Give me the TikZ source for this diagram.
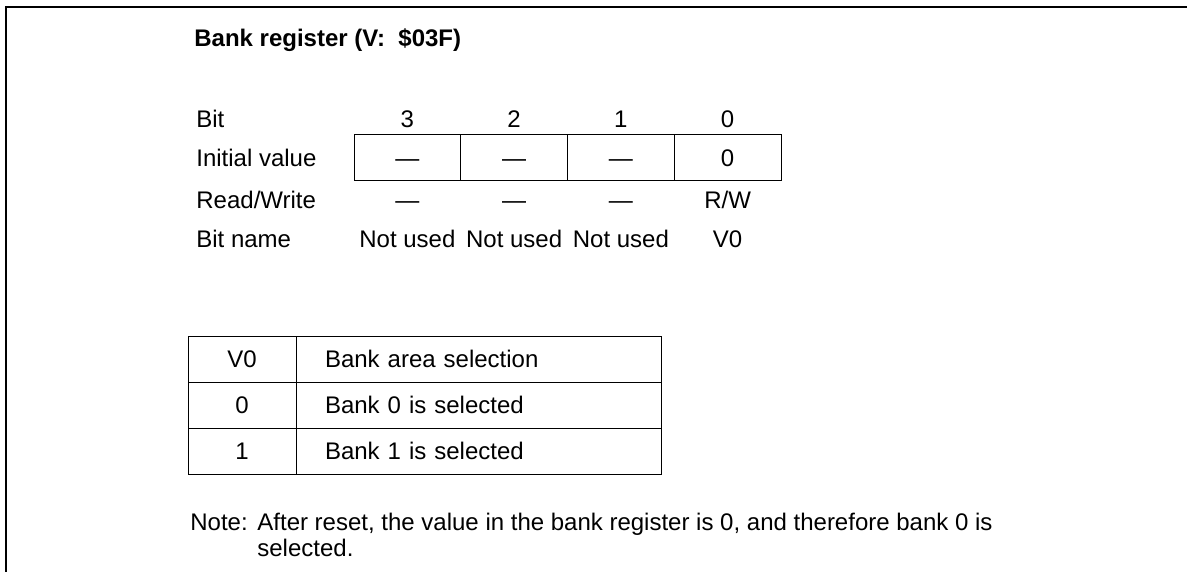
\documentclass[tikz,border=0pt]{standalone}
\usepackage{fontspec}
\setmainfont{Liberation Sans}
\usetikzlibrary{positioning}

\begin{document}
\begin{tikzpicture}[x=0.5pt,y=-0.5pt,font=\fontsize{12}{13}\selectfont,
  bitcell/.style={draw,line width=0.5pt,minimum width=53.375pt,minimum height=23pt,
                  inner sep=0pt,outer sep=0pt,text height=9pt,text depth=0pt},
  valcell/.style={draw,line width=0.5pt,minimum width=54pt,minimum height=23pt,
                  inner sep=0pt,outer sep=0pt},
  desccell/.style={draw,line width=0.5pt,minimum height=23pt,inner ysep=0pt,
                  inner xsep=14.5pt,text width=153.5pt,align=left,outer sep=0pt}]

\useasboundingbox (0,0) rectangle (1187,572);
\draw[line width=1pt] (6,572) -- (6,7) -- (1187,7);

\node[anchor=base west,inner sep=0pt,font=\fontsize{12}{13}\selectfont\bfseries] (TITLE) at (194,47) {Bank register (V:\ \ \$03F)};

% register bits
\coordinate (YBIT)  at (196,128);
\coordinate (YRW)   at (196,208);
\coordinate (YNAME) at (196,248);

\node[bitcell] (I3) at (407.4,158) {---};
\node[bitcell] (I2) [right=0pt of I3] {---};
\node[bitcell] (I1) [right=0pt of I2] {---};
\node[bitcell] (I0) [right=0pt of I1] {0};

\node[anchor=base west,inner sep=0pt] (BIT)   at (YBIT)  {Bit};
\node[anchor=west,inner sep=0pt,text height=9pt,text depth=0pt] (INIT) at (196,158) {Initial value};
\node[anchor=base west,inner sep=0pt] (RW)    at (YRW)   {Read/Write};
\node[anchor=base west,inner sep=0pt] (BNAME) at (YNAME) {Bit name};

\node[anchor=base] (B3) at (I3 |- YBIT) {3};
\node[anchor=base] (B2) at (I2 |- YBIT) {2};
\node[anchor=base] (B1) at (I1 |- YBIT) {1};
\node[anchor=base] (B0) at (I0 |- YBIT) {0};

\node[anchor=base] (RW3) at (I3 |- YRW) {---};
\node[anchor=base] (RW2) at (I2 |- YRW) {---};
\node[anchor=base] (RW1) at (I1 |- YRW) {---};
\node[anchor=base] (RW0) at (I0 |- YRW) {R/W};

\node[anchor=base] (N3) at (I3 |- YNAME) {Not used};
\node[anchor=base] (N2) at (I2 |- YNAME) {Not used};
\node[anchor=base] (N1) at (I1 |- YNAME) {Not used};
\node[anchor=base] (N0) at (I0 |- YNAME) {V0};

% selection table
\node[valcell]  (HV) at (242,359) {V0};
\node[desccell] (HD) [right=0pt of HV] {Bank area selection};
\node[valcell]  (V0) [below=0pt of HV] {0};
\node[desccell] (D0) [right=0pt of V0] {Bank 0 is selected};
\node[valcell]  (V1) [below=0pt of V0] {1};
\node[desccell] (D1) [right=0pt of V1] {Bank 1 is selected};

% note
\node[anchor=base west,inner sep=0pt] (NOTE)  at (190,530) {Note:};
\node[anchor=base west,inner sep=0pt] (NOTE1) at (257,530)
  {After reset, the value in the bank register is 0, and therefore bank 0 is};
\node[anchor=base west,inner sep=0pt] (NOTE2) at (257,556) {selected.};
\end{tikzpicture}
\end{document}
